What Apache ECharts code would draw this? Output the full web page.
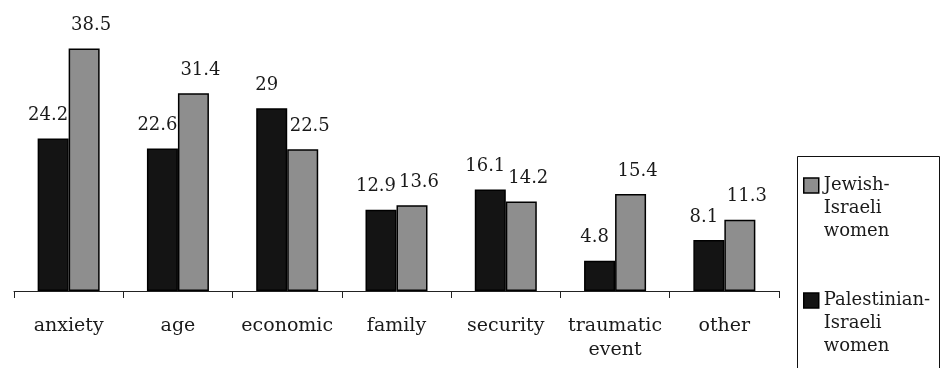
<!DOCTYPE html>
<html>
<head>
<meta charset="utf-8">
<script src="https://cdn.jsdelivr.net/npm/echarts@6/dist/echarts.min.js"></script>
<style>
  html, body { margin: 0; padding: 0; background: #fff; }
  #chart { width: 940px; height: 368px; }
</style>
</head>
<body>
<div id="chart"></div>
<script>
// Reasons given, percent of respondents
const categories = ['anxiety', 'age', 'economic', 'family', 'security', 'traumatic\nevent', 'other'];
const palestinianValues = [24.2, 22.6, 29, 12.9, 16.1, 4.8, 8.1];
const jewishValues = [38.5, 31.4, 22.5, 13.6, 14.2, 15.4, 11.3];
const seriesNames = ['Palestinian-Israeli women', 'Jewish-Israeli women'];
const legendText = {
  'Jewish-Israeli women': 'Jewish-\nIsraeli\nwomen',
  'Palestinian-Israeli women': 'Palestinian-\nIsraeli\nwomen'
};

const serif = 'DejaVu Serif';
const chart = echarts.init(document.getElementById('chart'));

// value labels sit above each bar, nudged apart so neighbouring pairs stay readable
function valueLabel(dx) {
  return {
    show: true,
    position: 'top',
    distance: 14,
    offset: [dx, 0],
    fontFamily: serif,
    fontSize: 18,
    color: '#1a1a1a'
  };
}

chart.setOption({
  animation: false,
  backgroundColor: '#fff',
  textStyle: { fontFamily: serif },
  grid: { left: 14, right: 161, top: 39, bottom: 77, containLabel: false },
  xAxis: {
    type: 'category',
    data: categories,
    boundaryGap: true,
    axisLine: { show: true, lineStyle: { color: '#222', width: 1 } },
    axisTick: { show: true, length: 7, alignWithLabel: false, lineStyle: { color: '#222', width: 1 } },
    axisLabel: {
      fontFamily: serif,
      fontSize: 19,
      color: '#1a1a1a',
      margin: 23,
      lineHeight: 24,
      interval: 0
    }
  },
  yAxis: {
    type: 'value',
    min: 0,
    max: 40,
    show: false,
    splitLine: { show: false }
  },
  legend: {
    data: [seriesNames[1], seriesNames[0]],
    orient: 'vertical',
    left: 803,
    top: 128,
    height: 240,
    padding: 0,
    itemGap: 0,
    itemWidth: 15,
    itemHeight: 15,
    itemStyle: { borderColor: '#000', borderWidth: 1.5 },
    icon: 'rect',
    // two leading blank lines keep the first text line level with the swatch
    formatter: name => '\n\n' + legendText[name],
    textStyle: {
      fontFamily: serif,
      fontSize: 18,
      color: '#1a1a1a',
      lineHeight: 23
    }
  },
  graphic: [{
    type: 'rect',
    left: 795,
    top: 154,
    shape: { width: 142, height: 240 },
    style: { fill: 'none', stroke: '#111', lineWidth: 1 },
    silent: true
  }],
  series: [
    {
      name: seriesNames[0],
      type: 'bar',
      data: palestinianValues,
      barWidth: 31,
      barGap: '0%',
      itemStyle: { color: '#141414', borderColor: '#000', borderWidth: 1.5 },
      label: valueLabel(-5)
    },
    {
      name: seriesNames[1],
      type: 'bar',
      data: jewishValues,
      barWidth: 31,
      barGap: '0%',
      itemStyle: { color: '#8e8e8e', borderColor: '#000', borderWidth: 1.5 },
      label: valueLabel(7)
    }
  ]
});
</script>
</body>
</html>
